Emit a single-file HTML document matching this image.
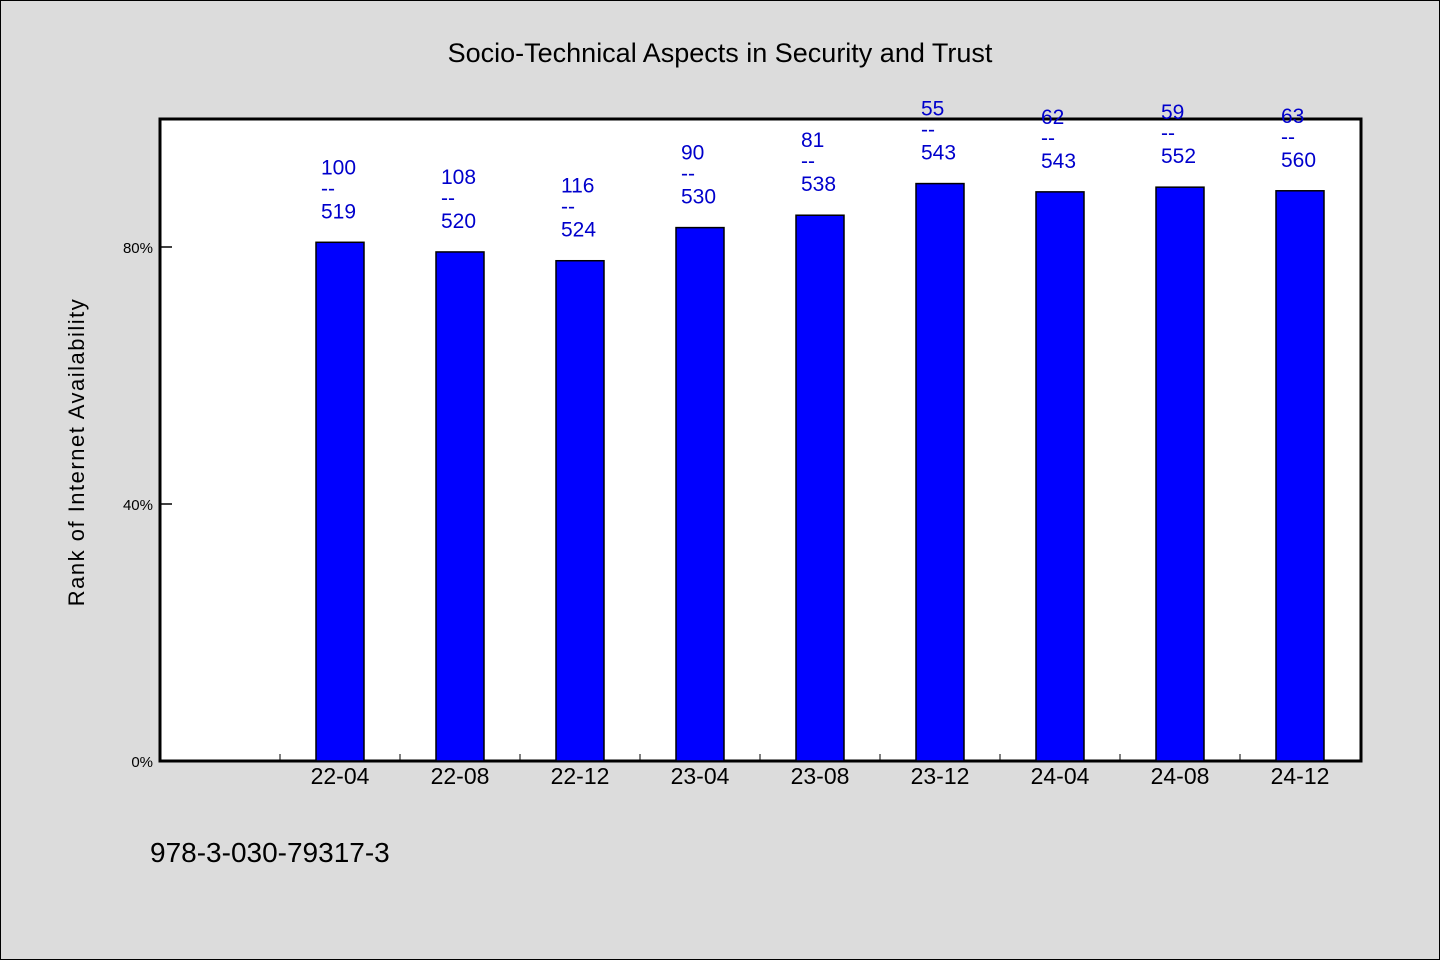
<!DOCTYPE html>
<html><head><meta charset="utf-8"><style>
body{margin:0;background:#dcdcdc;}
svg{display:block;font-family:"WenQuanYi Zen Hei","Liberation Sans",sans-serif;}
</style></head><body>
<svg id="chart" width="1440" height="960">
<rect x="0.5" y="0.5" width="1439" height="959" fill="#dcdcdc" stroke="#000"/>
<text x="720" y="62" text-anchor="middle" font-size="27">Socio-Technical Aspects in Security and Trust</text>
<rect x="160" y="119" width="1201" height="642" fill="#fff" stroke="#000" stroke-width="3"/>
<text transform="translate(84,452) rotate(-90)" text-anchor="middle" font-size="22" letter-spacing="1.5">Rank of Internet Availability</text>
<text x="150" y="862" font-size="28">978-3-030-79317-3</text>
<g id="marks"></g>
</svg>
<script>
const categories=["22-04","22-08","22-12","23-04","23-08","23-12","24-04","24-08","24-12"];
const ranks=[100,108,116,90,81,55,62,59,63];
const totals=[519,520,524,530,538,543,543,552,560];
const yTicks=[0,40,80];
const X0=160,SLOT=120,Y0=761,H=642.5;
const xs=i=>X0+SLOT*(i+1.5);
const ys=v=>Y0-v/100*H;
const g=document.getElementById('marks');
const NS='http://www.w3.org/2000/svg';
function mk(t,a){const e=document.createElementNS(NS,t);for(const k in a)e.setAttribute(k,a[k]);g.appendChild(e);return e;}
yTicks.forEach(v=>{
 const l=mk('line',{x1:160,x2:172,y1:ys(v),y2:ys(v),stroke:'#000','stroke-width':1.5});
 
 
 const t=mk('text',{x:153,y:ys(v)+6,'text-anchor':'end','font-size':15});
 t.textContent=v+'%';
 
 
});
for(let i=1;i<=categories.length;i++){
 const l=mk('line',{x1:X0+SLOT*i,x2:X0+SLOT*i,y1:Y0,y2:Y0-7,stroke:'#000','stroke-width':1});
 
 
}
categories.forEach((c,i)=>{
 const v=(1-ranks[i]/totals[i])*100;
 const x=xs(i),top=ys(v);
 const b=mk('rect',{x:x-24,y:top,width:48,height:Y0-top,fill:'#0000ff',stroke:'#000','stroke-width':1.5});
 
 
 const t=mk('text',{x:x,y:Y0+23,'text-anchor':'middle','font-size':23});
 t.textContent=c;
 
 
 [[String(ranks[i]),top-68],['--',top-47],[String(totals[i]),top-24]].forEach(([s,y])=>{
  const lt=mk('text',{x:x-19,y:y,'font-size':21,fill:'#0000cc'});
  lt.textContent=s;
  
  
 });
});
</script>
</body></html>
